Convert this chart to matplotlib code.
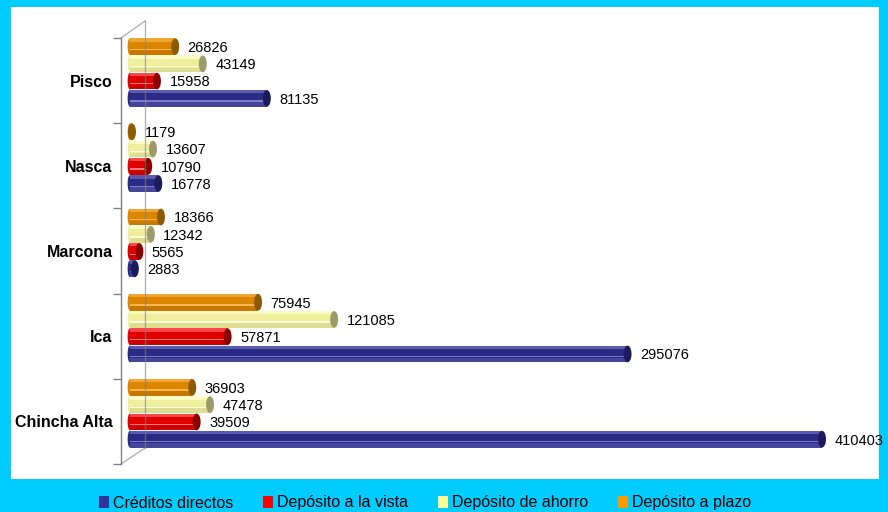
import numpy as np
import matplotlib
matplotlib.use("Agg")
import matplotlib.pyplot as plt
from matplotlib.patches import Rectangle, Ellipse, Patch
from matplotlib.lines import Line2D

plt.rcParams['font.family'] = ['Liberation Sans', 'DejaVu Sans']

# data, bottom category first
ciudades = ['Chincha Alta', 'Ica', 'Marcona', 'Nasca', 'Pisco']
creditos = [410403, 295076, 2883, 16778, 81135]
dep_vista = [39509, 57871, 5565, 10790, 15958]
dep_ahorro = [47478, 121085, 12342, 13607, 43149]
dep_plazo = [36903, 75945, 18366, 1179, 26826]
series_names = ['Créditos directos', 'Depósito a la vista', 'Depósito de ahorro', 'Depósito a plazo']

# base, light top, highlight line, lower part, end cap
shades = {
    'Créditos directos': ('#2b2b86', '#5a5aae', '#7c7cc8', '#45459c', '#1c1c5c'),
    'Depósito a la vista': ('#e00000', '#ff4545', '#ff7a7a', '#cc0000', '#8c0000'),
    'Depósito de ahorro': ('#eeee9c', '#fbfbc4', '#ffffdc', '#dede90', '#9c9c6a'),
    'Depósito a plazo': ('#dc8600', '#f2a534', '#fbb850', '#c87800', '#8c5a00'),
}
legend_cols = ['#333399', '#ff0000', '#ffff99', '#ff9900']

W, H = 888, 512
fig = plt.figure(figsize=(W / 100, H / 100), dpi=100)
fig.patch.set_facecolor('#00ccff')

def px(x, y):
    return x / W, 1 - y / H

# white panel
x0, y0 = px(11, 479)
x1, y1 = px(879, 7)
fig.add_artist(Rectangle((x0, y0), x1 - x0, y1 - y0, transform=fig.transFigure,
                         facecolor='white', edgecolor='none', zorder=0))

# axes: front axis at px 121, zero of bars at px 130
ax_l, ax_b = px(121, 464)
ax_r, ax_t = px(860, 38)
ax = fig.add_axes([ax_l, ax_b, ax_r - ax_l, ax_t - ax_b])
ax.set_facecolor('none')

pxs = 692 / 410403.0  # pixels per unit
xmin = -9 / pxs
xmax = (860 - 130) / pxs
ax.set_xlim(xmin, xmax)
ax.set_ylim(-0.5, len(ciudades) - 0.5)

bh = 17.2 / 85.0
cap_w = 8 / pxs
series = [dep_plazo, dep_ahorro, dep_vista, creditos]
names = [series_names[3], series_names[2], series_names[1], series_names[0]]

for c in range(len(ciudades)):
    top = c + 0.5
    for k, (vals, nm) in enumerate(zip(series, names)):
        v = vals[c]
        yc = top - bh * (k + 0.5)
        h = bh * 0.97
        base, light, hi, low, cap = shades[nm]
        ybot = yc - h / 2
        ax.barh(yc, v, height=h, left=0, color=base, edgecolor='none', zorder=3)
        # stripes from bottom to top
        parts = [(0.0, 0.28, low), (0.30, 0.38, hi), (0.80, 1.0, light)]
        for a, b, col in parts:
            ax.barh(ybot + h * (a + b) / 2, v, height=h * (b - a), left=0,
                    color=col, edgecolor='none', zorder=3.5)
        ax.add_patch(Ellipse((0, yc), cap_w * 0.6, h, facecolor=base,
                             edgecolor='none', zorder=2))
        ax.add_patch(Ellipse((v, yc), cap_w, h, facecolor=cap,
                             edgecolor='none', zorder=4))
        ax.annotate(str(v), xy=(v, yc), xytext=(9, -1), textcoords='offset points',
                    ha='left', va='center', fontsize=10.5, color='black', zorder=5)

# ticks
ax.set_yticks(np.arange(-0.5, len(ciudades), 1.0))
ax.set_yticklabels([])
ax.tick_params(axis='y', which='major', length=6, color='#808080', width=1)
ax.set_yticks(np.arange(len(ciudades)), minor=True)
ax.set_yticklabels(ciudades, minor=True, fontsize=11.5, fontweight='bold')
ax.tick_params(axis='y', which='minor', length=0, pad=6)
ax.set_xticks([])
for s in ['top', 'right', 'bottom']:
    ax.spines[s].set_visible(False)
ax.spines['left'].set_color('#808080')
ax.spines['left'].set_linewidth(1)

# back wall lines
wall = [((121, 38), (145, 21)), ((145, 21), (145, 448)), ((121, 464), (145, 448))]
for (xa, ya), (xb, yb) in wall:
    pa = px(xa, ya)
    pb = px(xb, yb)
    fig.add_artist(Line2D([pa[0], pb[0]], [pa[1], pb[1]], transform=fig.transFigure,
                          color='#808080', lw=1, alpha=0.6, zorder=10))

# legend
handles = [Patch(facecolor=c, edgecolor='none') for c in legend_cols]
lx, ly = px(425, 503)
fig.legend(handles, series_names, loc='center', bbox_to_anchor=(lx, ly), ncol=4,
           frameon=False, fontsize=11.5, handlelength=0.6, handleheight=0.8,
           handletextpad=0.25, columnspacing=1.9)

fig.savefig('out.png', dpi=100, facecolor=fig.get_facecolor())
